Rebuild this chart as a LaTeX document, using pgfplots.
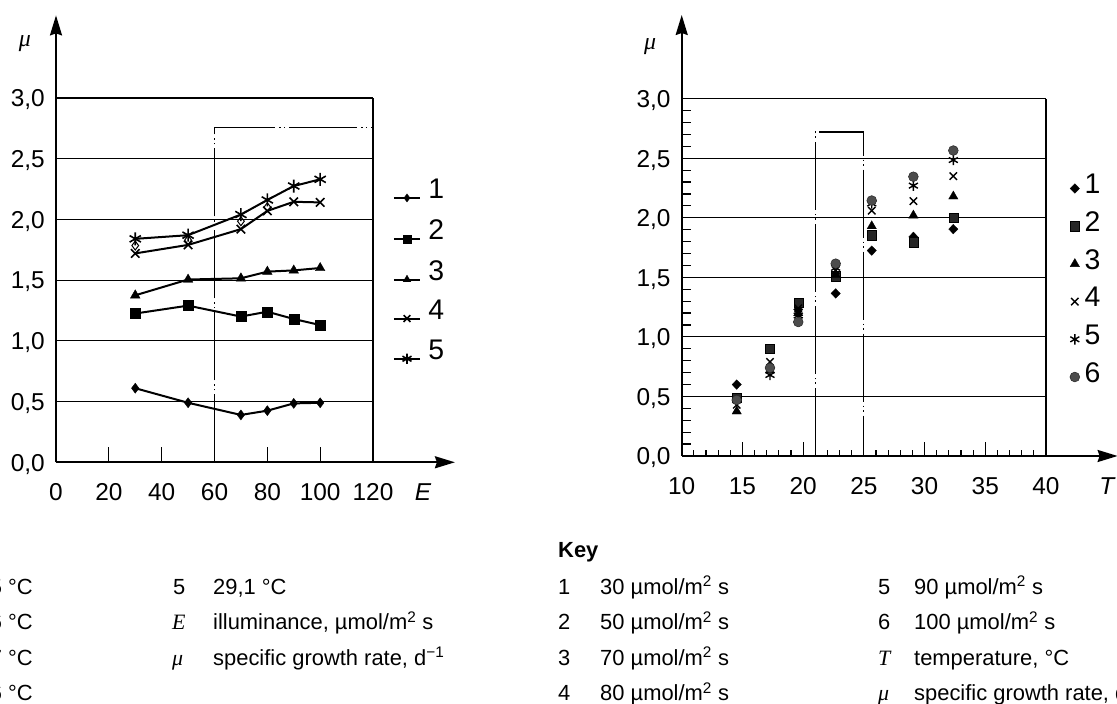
\documentclass[border=0pt]{standalone}
\usepackage{pgfplots}
\pgfplotsset{compat=1.18}
\usepackage{fontspec}
\setmainfont{Liberation Sans}
\newfontfamily\serif{Liberation Serif}
\usetikzlibrary{arrows.meta}

\pgfplotsset{
  myaxis/.style={
    scale only axis,
    axis lines=left,
    axis line style={line width=2bp},
    x axis line style={-{Stealth[length=20bp,width=12bp,inset=2bp]}},
    y axis line style={-{Stealth[length=20bp,width=12bp,inset=2bp]}},
    major tick length=0pt, minor tick length=0pt,
    tick style={draw=none},
    tick label style={font=\fontsize{24.5}{24.5}\selectfont, inner sep=0pt, text height=17.5bp, text depth=0bp},
    xticklabel style={anchor=north, yshift=-21bp},
    yticklabel style={anchor=east, xshift=-11bp},
    clip=false,
    legend cell align=left,
  },
}
\tikzset{
  keytext/.style={font=\fontsize{22}{22}\selectfont, anchor=base west, inner sep=0pt},
  frameline/.style={black, line width=1.2bp},
  dashdot/.style={black, line width=1.2bp, dash pattern=on 68bp off 4bp on 1.5bp off 3bp on 1.5bp off 4bp},
}

\begin{document}
\begin{tikzpicture}[x=1bp,y=1bp]
\useasboundingbox (0,0) rectangle (1117,704);
\clip (0,0) rectangle (1117,704);

% ---------------- left panel ----------------
\begin{axis}[myaxis,
  at={(56bp,241.7bp)}, anchor=south west,
  width=398.9bp, height=446.9bp,
  xmin=0, xmax=151, ymin=0, ymax=3.68,
  xtick={0,20,40,60,80,100,120}, xticklabels={0,20,40,60,80,100,120},
  ytick={0,0.5,1,1.5,2,2.5,3}, yticklabels={{0,0},{0,5},{1,0},{1,5},{2,0},{2,5},{3,0}},
  legend style={draw=none, fill=none, at={(0.8448,0.6355)}, anchor=north west,
    inner sep=0pt, outer sep=0pt, font=\fontsize{28.5}{28.5}\selectfont, row sep=17.1bp,
    nodes={inner sep=0pt, text height=20.4bp, text depth=0bp},
    /tikz/every odd column/.append style={column sep=7.5bp}},
  legend image code/.code={\draw[#1, mark repeat=2, mark phase=2, every mark/.append style={scale=0.8}] plot coordinates {(0bp,-9.5bp) (13bp,-9.5bp) (26bp,-9.5bp)};},
]
\pgfplotsinvokeforeach{0.5,1,1.5,2,2.5,3}{\draw[frameline] (axis cs:0,#1) -- (axis cs:120,#1);}
\draw[frameline] (axis cs:120,0) -- (axis cs:120,3);
\draw[dashdot] (axis cs:60,0) -- (axis cs:60,2.76) -- (axis cs:120,2.76);
\pgfplotsinvokeforeach{20,40,80,100}{\draw[frameline] (axis cs:#1,0) -- (axis cs:#1,0.125);}

\addplot[black, only marks, mark=diamond, mark size=4.5bp, mark options={line width=1bp}, forget plot]
  coordinates {(30,1.785)(50,1.83)(70,1.985)(80,2.10)};

\addplot[black, line width=2bp, mark=diamond*, mark size=5bp, mark options={line width=0.4bp}]
  coordinates {(30,0.61)(50,0.49)(70,0.39)(80,0.425)(90,0.485)(100,0.49)};
\addlegendentry{1}
\addplot[black, line width=2bp, mark=square*, mark size=5bp, mark options={line width=0.4bp}]
  coordinates {(30,1.225)(50,1.29)(70,1.20)(80,1.24)(90,1.18)(100,1.13)};
\addlegendentry{2}
\addplot[black, line width=2bp, mark=triangle*, mark size=5.5bp, mark options={line width=0.4bp}]
  coordinates {(30,1.375)(50,1.505)(70,1.515)(80,1.57)(90,1.58)(100,1.60)};
\addlegendentry{3}
\addplot[black, line width=2bp, mark=x, mark size=6bp, mark options={line width=1.6bp}]
  coordinates {(30,1.72)(50,1.79)(70,1.92)(80,2.07)(90,2.145)(100,2.14)};
\addlegendentry{4}
\addplot[black, line width=2bp, mark=asterisk, mark size=6.5bp, mark options={line width=1.6bp}]
  coordinates {(30,1.84)(50,1.87)(70,2.04)(80,2.16)(90,2.275)(100,2.33)};
\addlegendentry{5}
\end{axis}

% ---------------- right panel ----------------
\begin{axis}[myaxis,
  at={(681.7bp,248bp)}, anchor=south west,
  width=435.9bp, height=441bp,
  xmin=10, xmax=45.9, ymin=0, ymax=3.703,
  xtick={10,15,20,25,30,35,40}, xticklabels={10,15,20,25,30,35,40},
  ytick={0,0.5,1,1.5,2,2.5,3}, yticklabels={{0,0},{0,5},{1,0},{1,5},{2,0},{2,5},{3,0}},
  legend style={draw=none, fill=none, at={(0.8906,0.641)}, anchor=north west,
    inner sep=0pt, outer sep=0pt, font=\fontsize{28.5}{28.5}\selectfont, row sep=17.3bp,
    nodes={inner sep=0pt, text height=20.4bp, text depth=0bp},
    /tikz/every odd column/.append style={column sep=5bp}},
  legend image code/.code={\draw[#1, only marks] plot coordinates {(5bp,-5bp)};},
]
\pgfplotsinvokeforeach{0.5,1,1.5,2,2.5,3}{\draw[frameline] (axis cs:10,#1) -- (axis cs:40,#1);}
\draw[frameline] (axis cs:40,0) -- (axis cs:40,3);
\draw[dashdot] (axis cs:21,0) -- (axis cs:21,2.72) -- (axis cs:25,2.72) -- (axis cs:25,0);
\pgfplotsinvokeforeach{15,20,30,35}{\draw[frameline] (axis cs:#1,0) -- (axis cs:#1,0.1176);}
\pgfplotsinvokeforeach{11,12,13,14,16,17,18,19,22,23,24,26,27,28,29,31,32,33,34,36,37,38,39}{\draw[frameline] (axis cs:#1,0) -- (axis cs:#1,0.0504);}
\pgfplotsinvokeforeach{0.1,0.2,0.3,0.4,0.6,0.7,0.8,0.9,1.1,1.2,1.3,1.4,1.6,1.7,1.8,1.9,2.1,2.2,2.3,2.4,2.6,2.7,2.8,2.9}{\draw[frameline] (axis cs:10,#1) -- (axis cs:10.741,#1);}

\addplot[black, only marks, mark=diamond*, mark size=4.8bp, mark options={line width=0.3bp, xscale=1.3}]
  coordinates {(14.53,0.60)(17.27,0.74)(19.6,1.23)(22.68,1.365)(25.65,1.725)(29.08,1.84)(32.37,1.905)};
\addlegendentry{1}
\addplot[black, only marks, mark=square*, mark size=4.6bp, mark options={line width=0.3bp, fill=black!85}]
  coordinates {(14.53,0.49)(17.27,0.90)(19.6,1.285)(22.68,1.51)(25.65,1.855)(29.08,1.795)(32.37,2.00)};
\addlegendentry{2}
\addplot[black, only marks, mark=triangle*, mark size=5.4bp, mark options={line width=0.3bp}]
  coordinates {(14.53,0.375)(17.27,0.72)(19.6,1.20)(22.68,1.52)(25.65,1.93)(29.08,2.02)(32.37,2.18)};
\addlegendentry{3}
\addplot[black, only marks, mark=x, mark size=5.2bp, mark options={line width=1.4bp}]
  coordinates {(14.53,0.43)(17.27,0.79)(19.6,1.24)(22.68,1.56)(25.65,2.06)(29.08,2.14)(32.37,2.35)};
\addlegendentry{4}
\addplot[black, only marks, mark=asterisk, mark size=5.2bp, mark options={line width=1.4bp}]
  coordinates {(14.53,0.47)(17.27,0.68)(19.6,1.18)(22.68,1.58)(25.65,2.12)(29.08,2.27)(32.37,2.485)};
\addlegendentry{5}
\addplot[black, only marks, mark=*, mark size=4.9bp, mark options={line width=0.5bp, draw=black!85, fill=black!70}]
  coordinates {(14.53,0.47)(17.27,0.74)(19.6,1.125)(22.68,1.615)(25.65,2.145)(29.08,2.345)(32.37,2.565)};
\addlegendentry{6}
\end{axis}

% ---------------- axis names ----------------
\node[font=\serif\itshape\fontsize{24}{24}\selectfont, inner sep=0pt] at (25,660) {μ};
\node[font=\serif\itshape\fontsize{24}{24}\selectfont, inner sep=0pt] at (650,657) {μ};
\node[anchor=north, inner sep=0pt, text height=17.5bp, text depth=0bp, font=\itshape\fontsize{24.5}{24.5}\selectfont] at (423,220.7) {E};
\node[anchor=north, inner sep=0pt, text height=17.5bp, text depth=0bp, font=\itshape\fontsize{24.5}{24.5}\selectfont] at (1106.7,227) {T};

% ---------------- key ----------------
\node[keytext, anchor=base east] at (33,109.6) {14,5 °C};
\node[keytext, anchor=base east] at (33,74) {19,6 °C};
\node[keytext, anchor=base east] at (33,38.6) {22,7 °C};
\node[keytext, anchor=base east] at (33,3) {25,6 °C};

\node[keytext] at (173,109.6) {5};
\node[keytext] at (213,109.6) {29,1 °C};
\node[keytext, font=\serif\itshape\fontsize{22}{22}\selectfont] at (172,74) {E};
\node[keytext] at (213,74) {illuminance, µmol/m\textsuperscript{2} s};
\node[keytext, font=\serif\itshape\fontsize{22}{22}\selectfont] at (172,38.6) {μ};
\node[keytext] at (213,38.6) {specific growth rate, d\textsuperscript{−1}};

\node[keytext, font=\bfseries\fontsize{22}{22}\selectfont] at (558,146) {Key};
\node[keytext] at (558,109.6) {1};
\node[keytext] at (600,109.6) {30 µmol/m\textsuperscript{2} s};
\node[keytext] at (558,74) {2};
\node[keytext] at (600,74) {50 µmol/m\textsuperscript{2} s};
\node[keytext] at (558,38.6) {3};
\node[keytext] at (600,38.6) {70 µmol/m\textsuperscript{2} s};
\node[keytext] at (558,3) {4};
\node[keytext] at (600,3) {80 µmol/m\textsuperscript{2} s};

\node[keytext] at (878,109.6) {5};
\node[keytext] at (914,109.6) {90 µmol/m\textsuperscript{2} s};
\node[keytext] at (878,74) {6};
\node[keytext] at (914,74) {100 µmol/m\textsuperscript{2} s};
\node[keytext, font=\serif\itshape\fontsize{22}{22}\selectfont] at (878,38.6) {T};
\node[keytext] at (914,38.6) {temperature, °C};
\node[keytext, font=\serif\itshape\fontsize{22}{22}\selectfont] at (878,3) {μ};
\node[keytext] at (914,3) {specific growth rate, d\textsuperscript{−1}};
\end{tikzpicture}
\end{document}
